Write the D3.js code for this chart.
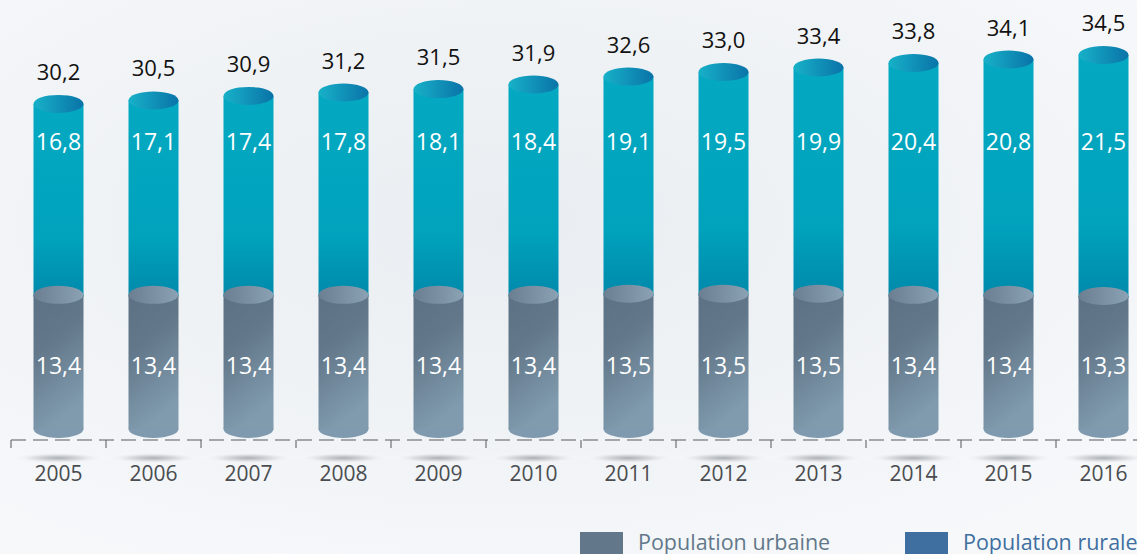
<!DOCTYPE html>
<html>
<head>
<meta charset="utf-8">
<script src="https://cdn.jsdelivr.net/npm/d3@7.9.0/dist/d3.min.js"></script>
<style>
  html, body { margin: 0; padding: 0; background: #f3f5f8; }
  svg { display: block; font-family: "Open Sans", sans-serif; }
</style>
</head>
<body>
<svg id="chart" width="1137" height="554"></svg>
<script>
const years = ["2005", "2006", "2007", "2008", "2009", "2010", "2011", "2012", "2013", "2014", "2015", "2016"];
const urbaine = [13.4, 13.4, 13.4, 13.4, 13.4, 13.4, 13.5, 13.5, 13.5, 13.4, 13.4, 13.3];
const rurale = [16.8, 17.1, 17.4, 17.8, 18.1, 18.4, 19.1, 19.5, 19.9, 20.4, 20.8, 21.5];
const totals = [30.2, 30.5, 30.9, 31.2, 31.5, 31.9, 32.6, 33.0, 33.4, 33.8, 34.1, 34.5];
const legendLabels = ["Population urbaine", "Population rurale"];

const fmt = v => d3.format(".1f")(v).replace(".", ",");

const svg = d3.select("#chart");
const defs = svg.append("defs");

// background wash
const bg = defs.append("radialGradient").attr("id", "bg").attr("cx", "45%").attr("cy", "40%").attr("r", "70%");
bg.append("stop").attr("offset", "0%").attr("stop-color", "#e9edf1");
bg.append("stop").attr("offset", "100%").attr("stop-color", "#f6f8fa");
svg.append("rect").attr("width", 1137).attr("height", 554).attr("fill", "url(#bg)");

function grad(id, x2, y2, stops) {
  const g = defs.append("linearGradient").attr("id", id)
    .attr("x1", 0).attr("y1", 0).attr("x2", x2).attr("y2", y2);
  stops.forEach(([o, c]) => g.append("stop").attr("offset", o).attr("stop-color", c));
}
grad("tealBody", 0, 1, [["0%", "#04a9c1"], ["70%", "#00a2bc"], ["100%", "#0089ab"]]);
grad("tealTop", 1, 0, [["0%", "#17b1c8"], ["100%", "#0a73a8"]]);
grad("greyBody", 0.3, 1, [["0%", "#5c7284"], ["40%", "#627789"], ["100%", "#809bae"]]);
grad("greyTop", 1, 0, [["0%", "#6a7f91"], ["100%", "#8ba2b4"]]);
const sh = defs.append("radialGradient").attr("id", "shadow");
sh.append("stop").attr("offset", "0%").attr("stop-color", "#9a9ea3");
sh.append("stop").attr("offset", "60%").attr("stop-color", "#e6e8eb");
sh.append("stop").attr("offset", "100%").attr("stop-color", "#ffffff").attr("stop-opacity", 0);

const x = d3.scaleBand().domain(years).range([11, 11 + 95 * years.length]).padding(0);
const y = d3.scaleLinear().domain([1.6, 34.5]).range([429, 55]);

const cw = 50, ry = 9;
const data = years.map((yr, i) => ({ yr, u: urbaine[i], r: rurale[i], t: totals[i] }));
const cx = d => x(d.yr) + x.bandwidth() / 2;

const g = svg.selectAll("g.bar").data(data).join("g").attr("class", "bar");

// teal (upper) segment
g.append("rect")
  .attr("x", d => cx(d) - cw / 2).attr("width", cw)
  .attr("y", d => y(d.t)).attr("height", d => y(d.u) - y(d.t) + 2)
  .attr("fill", "url(#tealBody)");
g.append("ellipse")
  .attr("cx", cx).attr("cy", d => y(d.t)).attr("rx", cw / 2).attr("ry", ry)
  .attr("fill", "url(#tealTop)");

// grey (lower) segment
g.append("ellipse")
  .attr("cx", cx).attr("cy", y(1.6)).attr("rx", cw / 2).attr("ry", ry)
  .attr("fill", "#7f9aae");
g.append("rect")
  .attr("x", d => cx(d) - cw / 2).attr("width", cw)
  .attr("y", d => y(d.u)).attr("height", d => y(1.6) - y(d.u))
  .attr("fill", "url(#greyBody)");
g.append("ellipse")
  .attr("cx", cx).attr("cy", d => y(d.u)).attr("rx", cw / 2).attr("ry", ry)
  .attr("fill", "url(#greyTop)");

// value labels
g.append("text")
  .attr("x", cx).attr("y", d => y(d.t) - 24)
  .attr("text-anchor", "middle").attr("font-size", 22).attr("fill", "#111")
  .text(d => fmt(d.t));
g.append("text")
  .attr("x", cx).attr("y", 150)
  .attr("text-anchor", "middle").attr("font-size", 23).attr("fill", "#fff")
  .text(d => fmt(d.r));
g.append("text")
  .attr("x", cx).attr("y", 374)
  .attr("text-anchor", "middle").attr("font-size", 23).attr("fill", "#fff")
  .text(d => fmt(d.u));

// axis
const axisY = 440;
svg.append("line")
  .attr("x1", 11).attr("x2", 1137).attr("y1", axisY).attr("y2", axisY)
  .attr("stroke", "#8a8d91").attr("stroke-width", 1.3).attr("stroke-dasharray", "15,7");
svg.selectAll("line.tick").data(years).join("line").attr("class", "tick")
  .attr("x1", d => x(d)).attr("x2", d => x(d))
  .attr("y1", axisY).attr("y2", axisY + 8)
  .attr("stroke", "#6d7075").attr("stroke-width", 1.2);
svg.selectAll("ellipse.shadow").data(years).join("ellipse").attr("class", "shadow")
  .attr("cx", d => x(d) + x.bandwidth() / 2).attr("cy", 458)
  .attr("rx", 50).attr("ry", 6).attr("fill", "url(#shadow)").attr("opacity", 0.8);
svg.selectAll("text.year").data(years).join("text").attr("class", "year")
  .attr("x", d => x(d) + x.bandwidth() / 2).attr("y", 481)
  .attr("text-anchor", "middle").attr("font-size", 21).attr("fill", "#4a4c50")
  .text(d => d);

// legend
const legendColors = ["#62788a", "#3f6fa0"];
const legendX = [580, 905];
const lg = svg.selectAll("g.legend").data(legendLabels).join("g").attr("class", "legend")
  .attr("transform", (d, i) => `translate(${legendX[i]},532)`);
lg.append("rect").attr("width", 43).attr("height", 24).attr("fill", (d, i) => legendColors[i]);
lg.append("text").attr("x", 58).attr("y", 18).attr("font-size", 21.5)
  .attr("fill", (d, i) => legendColors[i]).text(d => d);
</script>
</body>
</html>
